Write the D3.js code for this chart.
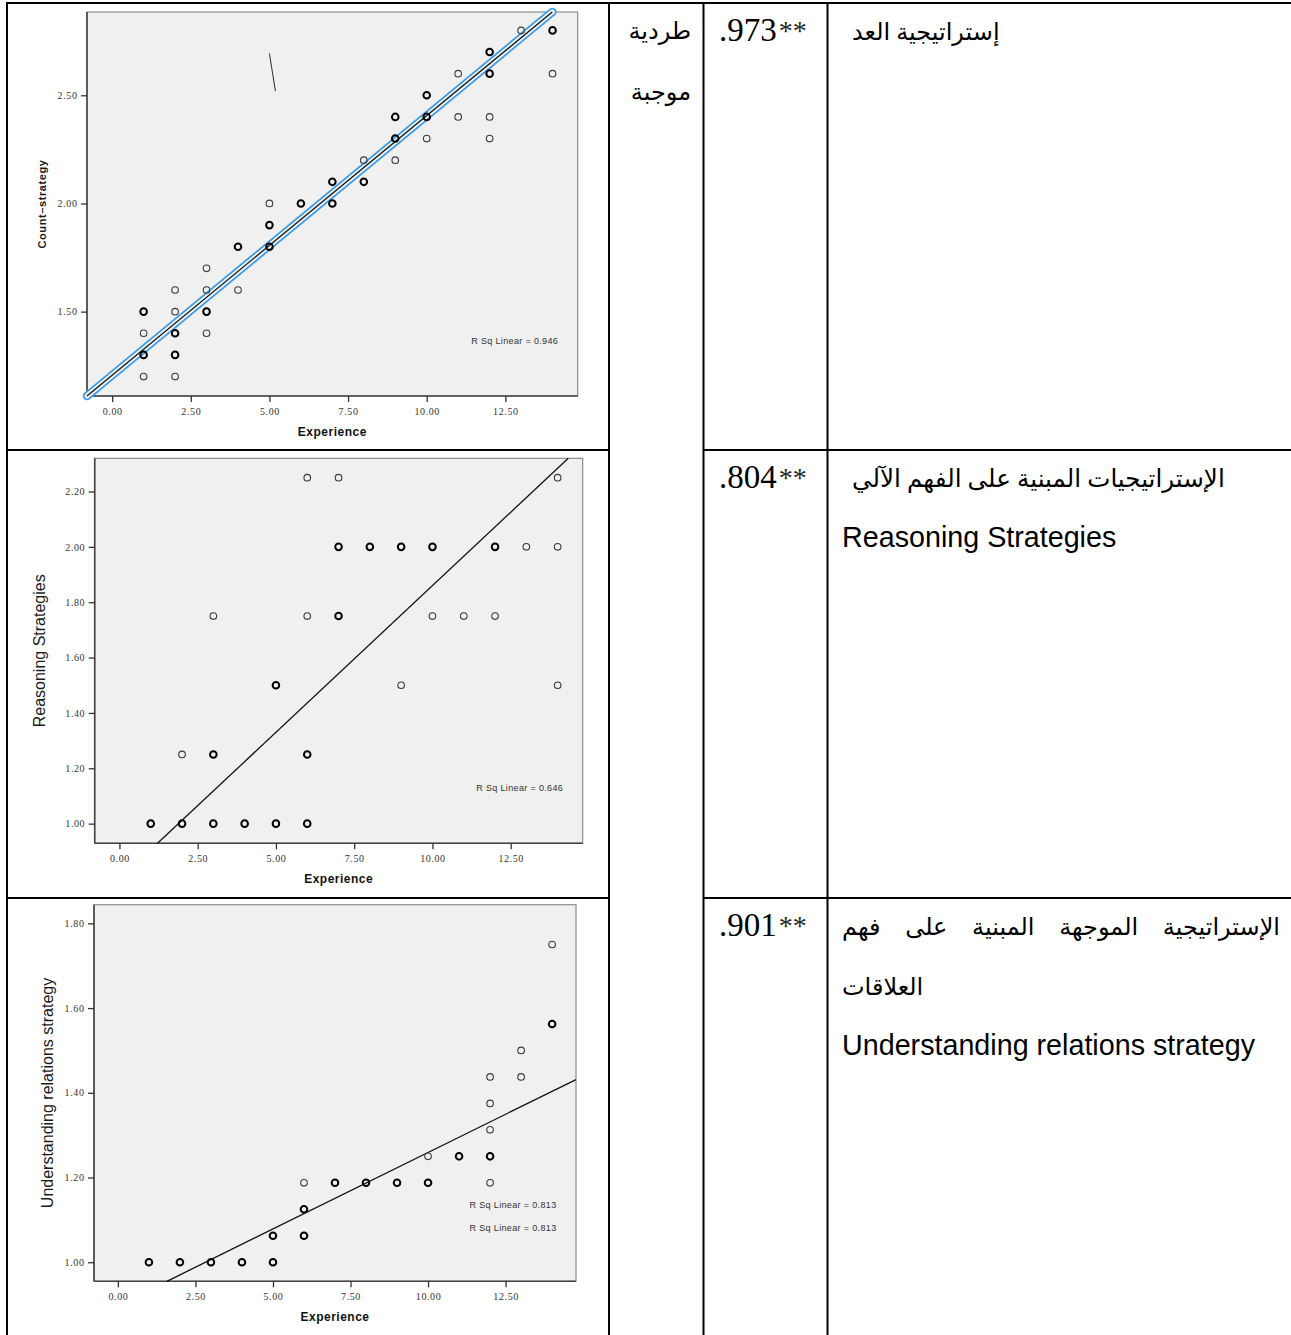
<!DOCTYPE html>
<html>
<head>
<meta charset="utf-8">
<script src="https://cdn.jsdelivr.net/npm/d3@7"></script>
<style>
  body { margin: 0; background: #fff; }
  svg { display: block; }
</style>
</head>
<body>
<svg id="page" width="1291" height="1335"></svg>
<script>
// ---- values ----
const xTicks = [0, 2.5, 5, 7.5, 10, 12.5];

// [experience, score, overlap] overlap 2 = several cases on the same spot (drawn bolder)
const countPoints = [
  [1,1.5,2],[1,1.4,1],[1,1.3,2],[1,1.2,1],
  [2,1.6,1],[2,1.5,1],[2,1.4,2],[2,1.3,2],[2,1.2,1],
  [3,1.7,1],[3,1.6,1],[3,1.5,2],[3,1.4,1],
  [4,1.8,2],[4,1.6,1],
  [5,2.0,1],[5,1.9,2],[5,1.8,2],
  [6,2.0,2],
  [7,2.1,2],[7,2.0,2],
  [8,2.2,1],[8,2.1,2],
  [9,2.4,2],[9,2.3,2],[9,2.2,1],
  [10,2.5,2],[10,2.4,2],[10,2.3,1],
  [11,2.6,1],[11,2.4,1],
  [12,2.7,2],[12,2.6,2],[12,2.4,1],[12,2.3,1],
  [13,2.8,1],
  [14,2.8,2],[14,2.6,1]
];
const reasonPoints = [
  [1,1.0,2],
  [2,1.25,1],[2,1.0,2],
  [3,1.75,1],[3,1.25,2],[3,1.0,2],
  [4,1.0,2],
  [5,1.5,2],[5,1.0,2],
  [6,2.25,1],[6,1.75,1],[6,1.25,2],[6,1.0,2],
  [7,2.25,1],[7,2.0,2],[7,1.75,2],
  [8,2.0,2],
  [9,2.0,2],[9,1.5,1],
  [10,2.0,2],[10,1.75,1],
  [11,1.75,1],
  [12,2.0,2],[12,1.75,1],
  [13,2.0,1],
  [14,2.25,1],[14,2.0,1],[14,1.5,1]
];
const relationPoints = [
  [1,1.0,2],[2,1.0,2],[3,1.0,2],[4,1.0,2],
  [5,1.0,2],[5,1.0625,2],
  [6,1.0625,2],[6,1.125,2],[6,1.1875,1],
  [7,1.1875,2],[8,1.1875,2],[9,1.1875,2],
  [10,1.1875,2],[10,1.25,1],
  [11,1.25,2],
  [12,1.1875,1],[12,1.25,2],[12,1.3125,1],[12,1.375,1],[12,1.4375,1],
  [13,1.4375,1],[13,1.5,1],
  [14,1.5625,2],[14,1.75,1]
];

// fitted lines: score = intercept + slope * experience
const countFit = [1.206, 0.12];
const reasonFit = [0.80, 0.106];
const relationFit = [0.898, 0.0361];

const countYTicks = [1.5, 2.0, 2.5];
const reasonYTicks = [1.0, 1.2, 1.4, 1.6, 1.8, 2.0, 2.2];
const relationYTicks = [1.0, 1.2, 1.4, 1.6, 1.8];

const countXDomain = [-0.8, 14.8], countYDomain = [1.11, 2.885];
const reasonXDomain = [-0.79, 14.8], reasonYDomain = [0.929, 2.32];
const relationXDomain = [-0.77, 14.77], relationYDomain = [0.955, 1.844];

const yTitles = ["Count\u2013strategy", "Reasoning Strategies", "Understanding relations strategy"];
const rsqLabels = [["R Sq Linear = 0.946"], ["R Sq Linear = 0.646"], ["R Sq Linear = 0.813", "R Sq Linear = 0.813"]];

// stray pen stroke in the first chart (data coordinates)
const strayStroke = [[5.0, 2.694], [5.04, 2.655], [5.19, 2.52]];

// table texts
const relationWord = ["طردية", "موجبة"];
const correlations = [".973", ".804", ".901"];
const significance = "**";
const arabicNames = [
  ["إستراتيجية العد"],
  ["الإستراتيجيات المبنية على الفهم الآلي"],
  ["الإستراتيجية الموجهة المبنية على فهم", "العلاقات"]
];
const englishNames = [null, "Reasoning Strategies", "Understanding relations strategy"];

// ---- layout ----
const svg = d3.select("#page");
const rowTops = [3, 450, 898];
const colX = [7, 609, 703.5, 827.5];
const pageW = 1291, pageH = 1335;

const frames = [
  {x0: 87,   x1: 577.7, y0: 12,    y1: 396,    titleX: 46},
  {x0: 94.7, x1: 582.7, y0: 458.3, y1: 843.3,  titleX: 45},
  {x0: 94,   x1: 576,   y0: 904.7, y1: 1281.3, titleX: 53}
];

const charts = [
  {points: countPoints, fit: countFit, yTicks: countYTicks, xd: countXDomain, yd: countYDomain, bold: true, highlight: true},
  {points: reasonPoints, fit: reasonFit, yTicks: reasonYTicks, xd: reasonXDomain, yd: reasonYDomain, bold: false},
  {points: relationPoints, fit: relationFit, yTicks: relationYTicks, xd: relationXDomain, yd: relationYDomain, bold: false}
];

charts.forEach((c, i) => {
  const f = frames[i];
  const x = d3.scaleLinear().domain(c.xd).range([f.x0, f.x1]);
  const y = d3.scaleLinear().domain(c.yd).range([f.y1, f.y0]);
  const g = svg.append("g");

  g.append("rect")
    .attr("x", f.x0).attr("y", f.y0)
    .attr("width", f.x1 - f.x0).attr("height", f.y1 - f.y0)
    .attr("fill", "#f0f0f0")
    .attr("stroke", "#8c8c8c")
    .attr("stroke-width", 1.2);

  // axes
  const yAxis = g.append("g")
    .attr("transform", `translate(${f.x0},0)`)
    .call(d3.axisLeft(y).tickValues(c.yTicks).tickFormat(d3.format(".2f")).tickSize(6).tickPadding(3.5));
  const xAxis = g.append("g")
    .attr("transform", `translate(0,${f.y1})`)
    .call(d3.axisBottom(x).tickValues(xTicks).tickFormat(d3.format(".2f")).tickSize(6).tickPadding(6));
  [yAxis, xAxis].forEach(a => {
    a.select(".domain").attr("stroke", "#444").attr("stroke-width", 1.6);
    a.selectAll(".tick line").attr("stroke", "#333").attr("stroke-width", 1.3);
    a.selectAll(".tick text")
      .attr("fill", "#333")
      .attr("font-family", "'Liberation Serif', serif")
      .attr("font-size", 10)
      .attr("letter-spacing", 0.6);
  });
  yAxis.select(".domain").attr("d", `M0,${f.y0}V${f.y1}`);
  xAxis.select(".domain").attr("d", `M${f.x0},0H${f.x1}`);

  // axis titles
  g.append("text")
    .attr("x", (f.x0 + f.x1) / 2)
    .attr("y", f.y1 + 40)
    .attr("text-anchor", "middle")
    .attr("font-family", "'Liberation Sans', Arial, sans-serif")
    .attr("font-weight", "bold")
    .attr("font-size", 12)
    .attr("letter-spacing", 0.5)
    .attr("fill", "#111")
    .text("Experience");

  g.append("text")
    .attr("transform", `translate(${f.titleX},${(f.y0 + f.y1) / 2}) rotate(-90)`)
    .attr("text-anchor", "middle")
    .attr("font-family", "'Liberation Sans', Arial, sans-serif")
    .attr("font-weight", c.bold ? "bold" : "normal")
    .attr("font-size", c.bold ? 11 : 16)
    .attr("letter-spacing", c.bold ? 0.6 : 0)
    .attr("fill", "#1a1a1a")
    .text(yTitles[i]);

  // fit line, limited to the plot area
  const [a, b] = c.fit;
  const xa = Math.max(c.xd[0], (c.yd[0] - a) / b);
  const xb = Math.min(c.xd[1], (c.yd[1] - a) / b);
  const fitLine = d3.line().x(d => x(d)).y(d => y(a + b * d));
  if (c.highlight) {
    g.append("path").attr("d", fitLine([xa, xb]))
      .attr("stroke", "#3a9ae8").attr("stroke-width", 8.5)
      .attr("stroke-linecap", "round").attr("fill", "none");
    g.append("path").attr("d", fitLine([xa, xb]))
      .attr("stroke", "#eef3f8").attr("stroke-width", 5)
      .attr("stroke-linecap", "round").attr("fill", "none");
  }
  g.append("path").attr("d", fitLine([xa, xb]))
    .attr("stroke", "#111").attr("stroke-width", 1.3).attr("fill", "none");

  // markers
  g.selectAll("circle.pt")
    .data(c.points)
    .join("circle")
    .attr("class", "pt")
    .attr("cx", d => x(d[0]))
    .attr("cy", d => y(d[1]))
    .attr("r", 3.3)
    .attr("fill", "none")
    .attr("stroke", d => d[2] > 1 ? "#000" : "#3a3a3a")
    .attr("stroke-width", d => d[2] > 1 ? 2 : 1.1);

  // R squared labels
  rsqLabels[i].forEach((t, k) => {
    g.append("text")
      .attr("x", f.x1 - 19.5)
      .attr("y", (i === 0 ? f.y0 + 331.5 : i === 1 ? f.y0 + 333 : f.y0 + 303.5) + k * 22.5)
      .attr("text-anchor", "end")
      .attr("font-family", "'Liberation Sans', Arial, sans-serif")
      .attr("font-size", 9)
      .attr("letter-spacing", 0.35)
      .attr("fill", "#333")
      .text(t);
  });

  if (i === 0) {
    g.append("path")
      .attr("d", d3.line().curve(d3.curveBasis).x(d => x(d[0])).y(d => y(d[1]))(strayStroke))
      .attr("stroke", "#222").attr("stroke-width", 1).attr("fill", "none");
  }
});

// ---- table grid ----
const grid = svg.append("g").attr("stroke", "#000").attr("stroke-width", 2);
grid.append("line").attr("x1", colX[0] - 1).attr("x2", pageW).attr("y1", rowTops[0]).attr("y2", rowTops[0]);
colX.forEach(cx => grid.append("line").attr("x1", cx).attr("x2", cx).attr("y1", rowTops[0]).attr("y2", pageH));
rowTops.slice(1).forEach(ry => {
  grid.append("line").attr("x1", colX[0]).attr("x2", colX[1]).attr("y1", ry).attr("y2", ry);
  grid.append("line").attr("x1", colX[2]).attr("x2", pageW).attr("y1", ry).attr("y2", ry);
});

const arabicFont = "'Liberation Serif', 'DejaVu Sans', serif";

// merged column text
relationWord.forEach((w, k) => {
  svg.append("text")
    .attr("x", 691).attr("y", rowTops[0] + 36 + k * 61)
    .attr("text-anchor", "end")
    .attr("font-family", arabicFont)
    .attr("font-size", 24)
    .attr("fill", "#000")
    .text(w);
});

correlations.forEach((v, i) => {
  const t = svg.append("text")
    .attr("x", 719).attr("y", rowTops[i] + 38)
    .attr("font-family", "'Liberation Serif', 'Times New Roman', serif")
    .attr("font-size", 33)
    .attr("fill", "#000");
  t.append("tspan").text(v);
  t.append("tspan")
    .attr("font-size", 28)
    .attr("dx", 2)
    .attr("dy", -1)
    .attr("fill", "#222")
    .text(significance);
});

// strategy names
arabicNames.forEach((lines, i) => {
  lines.forEach((ln, k) => {
    const yy = rowTops[i] + 37 + k * 60;
    if (i === 2 && k === 0) {
      // justified line: spread the words over the cell width
      const words = ln.split(" ");
      const left = 842, right = 1280;
      const nodes = words.map(w => svg.append("text")
        .attr("y", yy)
        .attr("text-anchor", "end")
        .attr("font-family", arabicFont)
        .attr("font-size", 24)
        .attr("fill", "#000")
        .text(w));
      const widths = nodes.map(n => n.node().getComputedTextLength());
      const gap = (right - left - d3.sum(widths)) / (words.length - 1);
      let xr = right;
      nodes.forEach((n, j) => { n.attr("x", xr); xr -= widths[j] + gap; });
    } else {
      svg.append("text")
        .attr("x", i === 2 ? 842 : 852).attr("y", yy)
        .attr("font-family", arabicFont)
        .attr("font-size", i === 1 ? 24.6 : 24)
        .attr("fill", "#000")
        .text(ln);
    }
  });
  if (englishNames[i]) {
    svg.append("text")
      .attr("x", 842).attr("y", rowTops[i] + 37 + lines.length * 60)
      .attr("font-family", "'Liberation Sans', Arial, sans-serif")
      .attr("font-size", 28.7)
      .attr("fill", "#000")
      .text(englishNames[i]);
  }
});
</script>
</body>
</html>
